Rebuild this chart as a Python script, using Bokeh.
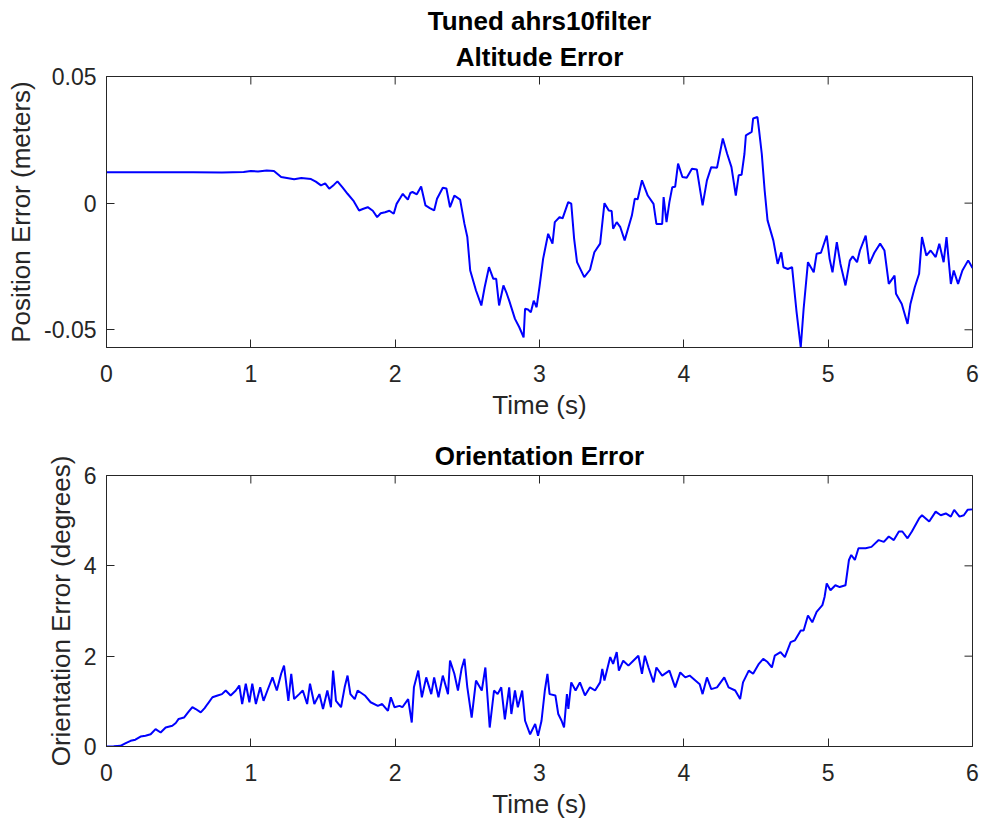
import math
from bokeh.plotting import figure
from bokeh.models import FixedTicker, Title, Range1d
from bokeh.layouts import column
from bokeh.embed import file_html
from bokeh.resources import INLINE

# ---------------- data ----------------
alt_time = [0.0, 0.2, 0.4, 0.6, 0.8, 0.95, 1.0, 1.05, 1.11, 1.16, 1.21, 1.26, 1.30, 1.35, 1.417,
            1.45, 1.486, 1.515, 1.543, 1.575, 1.60, 1.635, 1.67, 1.71, 1.75, 1.78, 1.81, 1.845,
            1.875, 1.90, 1.93, 1.96, 1.99, 2.01, 2.035, 2.053, 2.07, 2.088, 2.105, 2.12, 2.15,
            2.18, 2.21, 2.24, 2.27, 2.29, 2.33, 2.355, 2.38, 2.41, 2.45, 2.48, 2.50, 2.52, 2.56,
            2.597, 2.62, 2.65, 2.68, 2.70, 2.72, 2.75, 2.77, 2.79, 2.83, 2.86, 2.89, 2.90, 2.92,
            2.94, 2.96, 2.98, 3.0, 3.025, 3.06, 3.09, 3.106, 3.14, 3.16, 3.199, 3.22, 3.24, 3.26,
            3.31, 3.35, 3.38, 3.42, 3.45, 3.48, 3.50, 3.51, 3.535, 3.56, 3.59, 3.64, 3.66, 3.68,
            3.71, 3.75, 3.79, 3.81, 3.85, 3.86, 3.88, 3.90, 3.92, 3.94, 3.96, 3.99, 4.02, 4.056,
            4.09, 4.13, 4.16, 4.19, 4.23, 4.27, 4.30, 4.33, 4.36, 4.38, 4.40, 4.42, 4.43, 4.47,
            4.48, 4.51, 4.52, 4.54, 4.56, 4.58, 4.62, 4.65, 4.675, 4.69, 4.72, 4.75, 4.78, 4.81,
            4.83, 4.86, 4.90, 4.92, 4.95, 4.99, 5.01, 5.03, 5.06, 5.085, 5.12, 5.15, 5.17, 5.20,
            5.22, 5.26, 5.285, 5.32, 5.36, 5.39, 5.42, 5.46, 5.47, 5.51, 5.55, 5.57, 5.60, 5.63,
            5.65, 5.68, 5.71, 5.745, 5.77, 5.80, 5.82, 5.85, 5.87, 5.90, 5.93, 5.97, 6.0]
alt_error = [0.0122, 0.0122, 0.0122, 0.0122, 0.0121, 0.0123, 0.0127, 0.0125, 0.0129, 0.0127,
             0.0103, 0.0098, 0.0094, 0.0099, 0.0095, 0.0085, 0.0070, 0.0078, 0.0057, 0.0072,
             0.0086, 0.0062, 0.0037, 0.0010, -0.0029, -0.0022, -0.0016, -0.0030, -0.0055, -0.0040,
             -0.0036, -0.0030, -0.0042, -0.0003, 0.0020, 0.0037, 0.0025, 0.0014, 0.0040, 0.0044,
             0.0035, 0.0066, -0.0009, -0.0020, -0.0029, 0.0017, 0.0061, 0.0058, -0.0016, 0.0030,
             0.0014, -0.0082, -0.0134, -0.0266, -0.0345, -0.0404, -0.0332, -0.0253, -0.0299,
             -0.0299, -0.0404, -0.0325, -0.0352, -0.0385, -0.0457, -0.0490, -0.0530, -0.0417,
             -0.0420, -0.0431, -0.0385, -0.0411, -0.0330, -0.0220, -0.0121, -0.0160, -0.0075,
             -0.0055, -0.0060, 0.0004, -0.0002, -0.0141, -0.0233, -0.0292, -0.0263, -0.0194,
             -0.0160, 0.0000, -0.0029, -0.0031, -0.0101, -0.0075, -0.0095, -0.0147, -0.0049,
             0.0017, 0.0015, 0.0090, 0.0030, -0.0003, -0.0082, -0.0082, 0.0024, -0.0075, 0.0004,
             0.0063, 0.0065, 0.0156, 0.0103, 0.0100, 0.0136, 0.0133, -0.0009, 0.0090, 0.0142,
             0.0140, 0.0255, 0.0195, 0.0142, 0.0030, 0.0110, 0.0112, 0.0195, 0.0268, 0.0281,
             0.0334, 0.0340, 0.0294, 0.0195, 0.0050, -0.0068, -0.0147, -0.0240, -0.0194, -0.0253,
             -0.0260, -0.0253, -0.0424, -0.0570, -0.0417, -0.0233, -0.0273, -0.0200, -0.0196,
             -0.0128, -0.0220, -0.0273, -0.0154, -0.0240, -0.0325, -0.0227, -0.0210, -0.0233,
             -0.0187, -0.0128, -0.0240, -0.0196, -0.0160, -0.0187, -0.0319, -0.0286, -0.0358,
             -0.0398, -0.0477, -0.0398, -0.0332, -0.0279, -0.0134, -0.0207, -0.0187, -0.0213,
             -0.0160, -0.0233, -0.0134, -0.0319, -0.0266, -0.0319, -0.0266, -0.0226, -0.0256]

ori_time = [0.0, 0.05, 0.097, 0.13, 0.167, 0.2, 0.236, 0.27, 0.306, 0.34, 0.375, 0.41, 0.456,
            0.48, 0.50, 0.537, 0.565, 0.595, 0.618, 0.653, 0.68, 0.70, 0.734, 0.77, 0.80, 0.826,
            0.86, 0.896, 0.92, 0.94, 0.965, 0.99, 1.01, 1.035, 1.065, 1.088, 1.115, 1.15, 1.18,
            1.21, 1.23, 1.26, 1.28, 1.30, 1.335, 1.36, 1.39, 1.41, 1.44, 1.475, 1.50, 1.53, 1.555,
            1.57, 1.59, 1.625, 1.65, 1.67, 1.69, 1.72, 1.74, 1.79, 1.83, 1.88, 1.91, 1.95, 1.97,
            1.995, 2.03, 2.05, 2.09, 2.115, 2.13, 2.16, 2.185, 2.215, 2.25, 2.27, 2.30, 2.33,
            2.366, 2.38, 2.41, 2.435, 2.46, 2.48, 2.50, 2.53, 2.56, 2.60, 2.625, 2.655, 2.685,
            2.71, 2.735, 2.76, 2.79, 2.805, 2.83, 2.85, 2.88, 2.90, 2.935, 2.97, 2.99, 3.014,
            3.037, 3.055, 3.07, 3.11, 3.13, 3.153, 3.17, 3.19, 3.20, 3.22, 3.25, 3.28, 3.315,
            3.35, 3.385, 3.42, 3.435, 3.45, 3.49, 3.51, 3.535, 3.55, 3.58, 3.616, 3.65, 3.685,
            3.71, 3.73, 3.755, 3.79, 3.81, 3.85, 3.90, 3.94, 3.975, 4.01, 4.04, 4.08, 4.11, 4.13,
            4.16, 4.19, 4.23, 4.28, 4.31, 4.356, 4.39, 4.41, 4.45, 4.48, 4.52, 4.55, 4.58, 4.61,
            4.63, 4.67, 4.70, 4.74, 4.77, 4.81, 4.83, 4.86, 4.89, 4.92, 4.96, 4.975, 4.99, 5.016,
            5.05, 5.08, 5.12, 5.144, 5.16, 5.185, 5.21, 5.26, 5.30, 5.35, 5.386, 5.42, 5.455,
            5.49, 5.514, 5.55, 5.58, 5.63, 5.65, 5.70, 5.745, 5.78, 5.815, 5.85, 5.873, 5.91,
            5.94, 5.966, 6.0]
ori_error = [0.0, 0.005, 0.015, 0.07, 0.126, 0.15, 0.22, 0.24, 0.27, 0.385, 0.31, 0.42, 0.46,
             0.52, 0.61, 0.64, 0.755, 0.87, 0.83, 0.755, 0.85, 0.94, 1.09, 1.13, 1.16, 1.24,
             1.13, 1.24, 1.35, 0.94, 1.39, 0.98, 1.39, 0.94, 1.31, 1.01, 1.24, 1.53, 1.24, 1.61,
             1.79, 1.01, 1.61, 1.05, 1.16, 1.24, 0.94, 1.39, 0.94, 1.16, 0.83, 1.24, 0.87, 1.68,
             1.01, 0.87, 1.31, 1.57, 1.16, 1.05, 1.24, 1.13, 0.98, 0.90, 0.94, 0.79, 1.09, 0.87,
             0.90, 0.87, 1.05, 0.53, 1.31, 1.68, 1.09, 1.53, 1.16, 1.53, 1.09, 1.57, 1.16, 1.90,
             1.61, 1.24, 1.72, 1.94, 1.31, 0.64, 1.46, 1.24, 1.75, 0.42, 1.24, 1.16, 1.31, 0.60,
             1.31, 0.72, 1.24, 0.87, 1.24, 0.57, 0.27, 0.50, 0.24, 0.57, 1.24, 1.61, 1.16, 1.13,
             0.72, 0.57, 0.42, 1.16, 0.83, 1.42, 1.24, 1.42, 1.13, 1.31, 1.24, 1.42, 1.72, 1.46,
             1.98, 1.83, 2.09, 1.68, 1.90, 1.79, 1.90, 2.01, 1.61, 2.01, 1.75, 1.42, 1.75, 1.57,
             1.68, 1.31, 1.64, 1.53, 1.57, 1.46, 1.38, 1.16, 1.53, 1.27, 1.31, 1.53, 1.31, 1.24,
             1.05, 1.42, 1.68, 1.61, 1.83, 1.94, 1.87, 1.75, 2.01, 2.09, 1.98, 2.31, 2.35, 2.57,
             2.57, 2.90, 2.75, 2.98, 3.13, 3.31, 3.61, 3.46, 3.57, 3.53, 3.57, 4.13, 4.24, 4.13,
             4.39, 4.39, 4.42, 4.57, 4.53, 4.65, 4.57, 4.76, 4.76, 4.61, 4.76, 5.05, 5.12, 4.98,
             5.20, 5.12, 5.16, 5.09, 5.24, 5.09, 5.12, 5.24, 5.25]

x_ticks = [0, 1, 2, 3, 4, 5, 6]
x_tick_labels = ["0", "1", "2", "3", "4", "5", "6"]
alt_y_ticks = [-0.05, 0, 0.05]
alt_y_tick_labels = ["-0.05", "0", "0.05"]
ori_y_ticks = [0, 2, 4, 6]
ori_y_tick_labels = ["0", "2", "4", "6"]

# ---------------- style ----------------
FONT = "Liberation Sans"
AXC = "#262626"
TICK_FS = "23px"
LABEL_FS = "26px"
TITLE_FS = "26px"


def style_axis(ax, ticks, labels):
    ax.ticker = FixedTicker(ticks=ticks, minor_ticks=[])
    ax.axis_line_color = AXC
    ax.axis_line_width = 1
    ax.major_tick_line_color = AXC
    ax.major_tick_in = 8
    ax.major_tick_out = 0
    ax.minor_tick_in = 0
    ax.minor_tick_out = 0
    ax.major_label_overrides = {t: l for t, l in zip(ticks, labels)}
    ax.major_label_text_font = FONT
    ax.major_label_text_font_size = TICK_FS
    ax.major_label_text_color = AXC
    ax.axis_label_text_font = FONT
    ax.axis_label_text_font_size = LABEL_FS
    ax.axis_label_text_font_style = "normal"
    ax.axis_label_text_color = AXC


def make_plot(height, top, bottom, ylo, yhi, yticks, ylabels, ylabel, titles, xs, ys):
    xmin, xmax = x_ticks[0], x_ticks[-1]
    p = figure(width=981, height=height, title=None,
               x_range=Range1d(xmin, xmax), y_range=Range1d(ylo, yhi),
               output_backend="svg", toolbar_location=None,
               min_border_left=106, min_border_right=9,
               min_border_top=top, min_border_bottom=bottom)
    p.background_fill_color = "white"
    p.border_fill_color = "white"
    p.outline_line_color = AXC
    p.outline_line_width = 1
    p.xgrid.visible = False
    p.ygrid.visible = False

    xa = p.xaxis[0]
    style_axis(xa, x_ticks, x_tick_labels)
    xa.major_label_standoff = 17
    xa.axis_label = "Time (s)"
    xa.axis_label_standoff = 5

    ya = p.yaxis[0]
    style_axis(ya, yticks, ylabels)
    ya.major_label_standoff = 10
    ya.axis_label = ylabel
    ya.axis_label_standoff = 5

    # inward ticks on the right and top edges of the box (MATLAB "box on")
    p.scatter(x=[xmax] * len(yticks), y=yticks, marker="dash", size=16,
              line_color=AXC, line_width=1)
    p.scatter(x=x_ticks, y=[yhi] * len(x_ticks), marker="dash", size=16,
              angle=math.pi / 2, line_color=AXC, line_width=1)

    for txt, so in titles:
        p.add_layout(Title(text=txt, align="center", text_font=FONT,
                           text_font_size=TITLE_FS, text_font_style="bold",
                           text_color="#000000", standoff=so), "above")

    p.line(xs, ys, line_color="#0000FF", line_width=2)
    return p


p1 = make_plot(422, 76, 75, -0.057, 0.05, alt_y_ticks, alt_y_tick_labels,
               "Position Error (meters)",
               [("Altitude Error", 9), ("Tuned ahrs10filter", 0)],
               alt_time, alt_error)
p2 = make_plot(399, 53, 75, 0, 6, ori_y_ticks, ori_y_tick_labels,
               "Orientation Error (degrees)", [("Orientation Error", 9)],
               ori_time, ori_error)

layout = column(p1, p2, spacing=0)
open("out.html", "w").write(file_html(layout, INLINE))
